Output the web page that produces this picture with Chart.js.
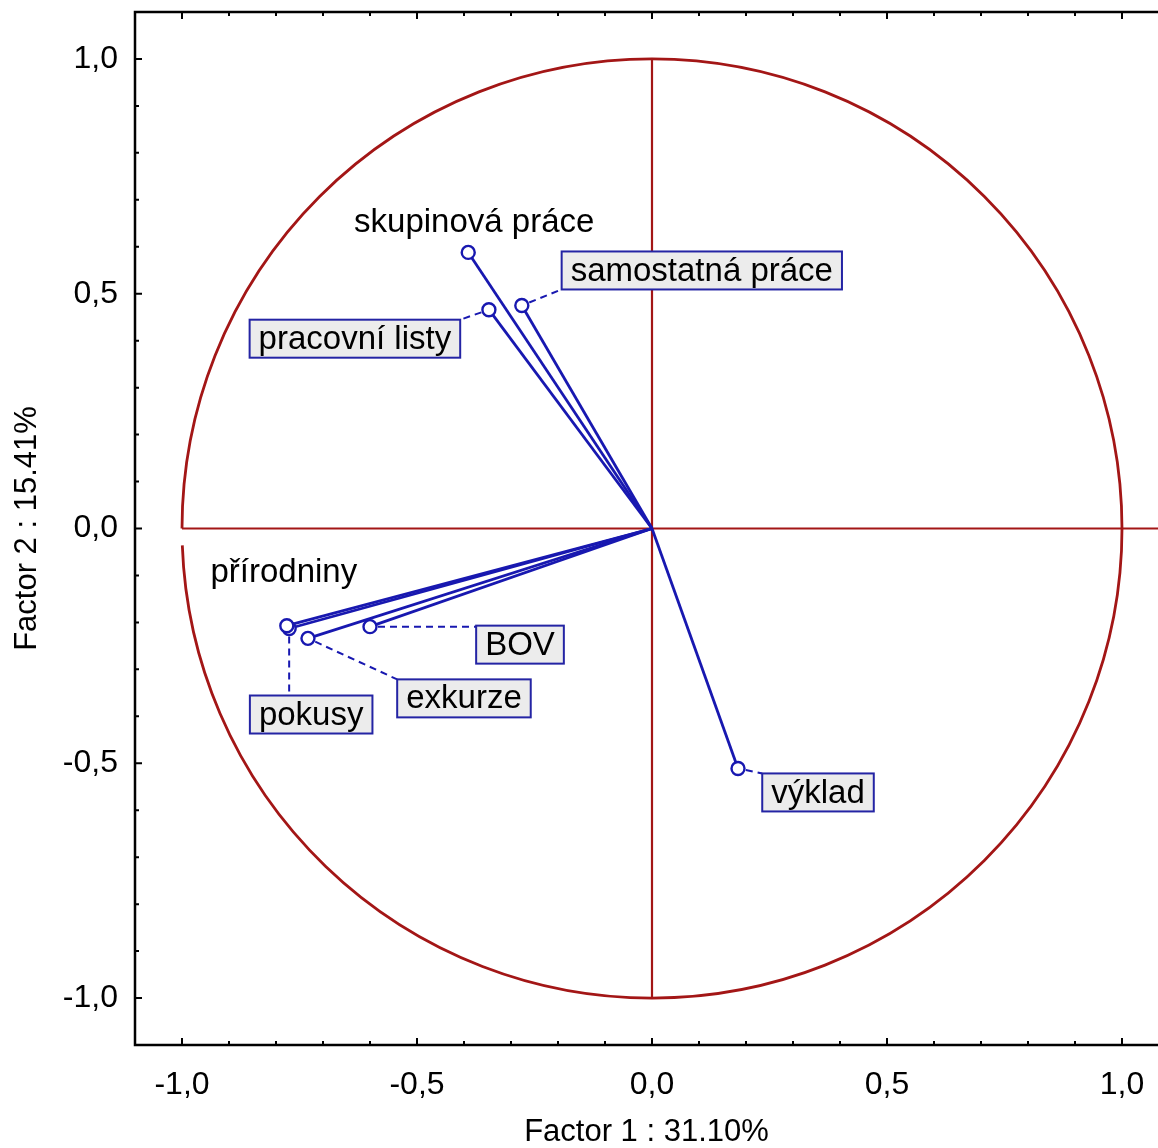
<!DOCTYPE html>
<html>
<head>
<meta charset="utf-8">
<script src="https://cdn.jsdelivr.net/npm/chart.js@4.4.0/dist/chart.umd.min.js"></script>
<style>
  html, body { margin: 0; padding: 0; background: #fff; }
</style>
</head>
<body>
<canvas id="chart" width="1158" height="1148"></canvas>
<script>
// factor loadings of the teaching methods
const variables = [
  "skupinová práce",
  "pracovní listy",
  "samostatná práce",
  "přírodniny",
  "pokusy",
  "exkurze",
  "BOV",
  "výklad"
];
const factor1 = [-0.391, -0.347, -0.277, -0.777, -0.772, -0.732, -0.600, 0.183];
const factor2 = [0.588, 0.466, 0.475, -0.207, -0.213, -0.234, -0.209, -0.511];

// axis ticks
const tickValues = [-1.0, -0.5, 0.0, 0.5, 1.0];
const xTitle = "Factor 1 : 31.10%";
const yTitle = "Factor 2 : 15.41%";

// where each label sits relative to its point (px), and whether it gets a box
const labelOffsets = [[6, -31], [-134, 29], [180, -35], [-3, -54], [22, 86], [156, 60], [150, 18], [80, 24]];
const labelBoxed = [false, true, true, false, true, true, true, true];

const FONT = '"Liberation Sans", Arial, sans-serif';
const RED = '#a31616';
const BLUE = '#1818b0';
const BOX_BLUE = '#2424a4';

const fmt = v => (Math.abs(v) < 1e-9 ? 0 : v).toFixed(1).replace('.', ',');

// unit circle + axes cross, behind the vectors
const circlePlugin = {
  id: 'circle',
  beforeDatasetsDraw(chart) {
    const {ctx, chartArea: a, scales: {x, y}} = chart;
    const cx = x.getPixelForValue(0), cy = y.getPixelForValue(0);
    const rx = x.getPixelForValue(1) - cx;
    const ry = cy - y.getPixelForValue(1);
    ctx.save();
    ctx.strokeStyle = RED;
    ctx.lineWidth = 2.8;
    ctx.beginPath();
    // leaves a small break just under the left end
    ctx.ellipse(cx, cy, rx, ry, 0, Math.PI, 3 * Math.PI - 0.036);
    ctx.stroke();
    ctx.lineWidth = 2.2;
    ctx.beginPath();
    ctx.moveTo(cx, y.getPixelForValue(1));
    ctx.lineTo(cx, y.getPixelForValue(-1));
    ctx.moveTo(x.getPixelForValue(-1), cy);
    ctx.lineTo(a.right, cy);
    ctx.stroke();
    ctx.restore();
  }
};

// variable names, dashed leaders and boxes
const labelPlugin = {
  id: 'labels',
  afterDatasetsDraw(chart) {
    const {ctx, scales: {x, y}} = chart;
    ctx.save();
    ctx.font = '33px ' + FONT;
    ctx.textAlign = 'center';
    ctx.textBaseline = 'middle';
    variables.forEach((name, i) => {
      const px = x.getPixelForValue(factor1[i]);
      const py = y.getPixelForValue(factor2[i]);
      const lx = px + labelOffsets[i][0];
      const ly = py + labelOffsets[i][1];
      if (labelBoxed[i]) {
        const w = ctx.measureText(name).width + 18;
        const h = 38;
        const l = lx - w / 2, t = ly - h / 2;
        // leader goes to the nearest point of the box
        const tx = Math.min(Math.max(px, l), l + w);
        const ty = Math.min(Math.max(py, t), t + h);
        const d = Math.hypot(tx - px, ty - py);
        if (d > 8) {
          ctx.strokeStyle = BLUE;
          ctx.lineWidth = 2;
          ctx.setLineDash([7, 5]);
          ctx.beginPath();
          ctx.moveTo(px + (tx - px) * 8 / d, py + (ty - py) * 8 / d);
          ctx.lineTo(tx, ty);
          ctx.stroke();
          ctx.setLineDash([]);
        }
        ctx.fillStyle = '#ececec';
        ctx.fillRect(l, t, w, h);
        ctx.strokeStyle = BOX_BLUE;
        ctx.lineWidth = 2;
        ctx.strokeRect(l, t, w, h);
      }
      ctx.fillStyle = '#000';
      ctx.fillText(name, lx, ly + 1);
    });
    ctx.restore();
  }
};

// frame on left/top/bottom with inward ticks
const framePlugin = {
  id: 'frame',
  afterDraw(chart) {
    const {ctx, chartArea: a, scales: {x, y}} = chart;
    ctx.save();
    ctx.strokeStyle = '#000';
    ctx.lineWidth = 2.5;
    ctx.beginPath();
    ctx.moveTo(a.right, a.top);
    ctx.lineTo(a.left, a.top);
    ctx.lineTo(a.left, a.bottom);
    ctx.lineTo(a.right, a.bottom);
    ctx.stroke();
    ctx.lineWidth = 2;
    ctx.beginPath();
    for (let k = -10; k <= 10; k++) {
      const v = k / 10;
      const len = k % 5 === 0 ? 7 : 4;
      const xp = x.getPixelForValue(v);
      const yp = y.getPixelForValue(v);
      ctx.moveTo(xp, a.bottom); ctx.lineTo(xp, a.bottom - len);
      ctx.moveTo(xp, a.top); ctx.lineTo(xp, a.top + len);
      ctx.moveTo(a.left, yp); ctx.lineTo(a.left + len, yp);
    }
    ctx.stroke();
    ctx.restore();
  }
};

const datasets = variables.map((name, i) => ({
  label: name,
  data: [{x: 0, y: 0}, {x: factor1[i], y: factor2[i]}],
  showLine: true,
  borderColor: BLUE,
  borderWidth: 2.8,
  pointRadius: c => c.dataIndex === 0 ? 0 : 6.5,
  pointBorderWidth: 2.4,
  pointBorderColor: BLUE,
  pointBackgroundColor: '#fff'
}));

const axisFont = {family: FONT, size: 32};
const titleFont = {family: FONT, size: 31, lineHeight: 1};

// keep the axis boxes at fixed sizes, no extra room for edge labels
const fixBox = (w, h) => s => {
  if (w) s.width = w;
  if (h) s.height = h;
  s.paddingTop = s.paddingBottom = s.paddingLeft = s.paddingRight = 0;
};

new Chart(document.getElementById('chart'), {
  type: 'scatter',
  data: { datasets },
  options: {
    responsive: false,
    animation: false,
    layout: { autoPadding: false, padding: { top: 12, right: 0, bottom: 0, left: 0 } },
    plugins: { legend: { display: false }, tooltip: { enabled: false } },
    scales: {
      x: {
        type: 'linear',
        min: -1.1,
        max: 1.0766,
        grid: { display: false, drawTicks: false },
        border: { display: false },
        ticks: { color: '#000', font: axisFont, padding: 21, maxRotation: 0, autoSkip: false, callback: fmt },
        afterBuildTicks: s => { s.ticks = tickValues.map(v => ({value: v})); },
        afterFit: fixBox(0, 103),
        title: { display: true, text: xTitle, color: '#000', font: titleFont, padding: { top: 0, bottom: 0 } }
      },
      y: {
        type: 'linear',
        min: -1.1,
        max: 1.1,
        grid: { display: false, drawTicks: false },
        border: { display: false },
        ticks: { color: '#000', font: axisFont, padding: 17, autoSkip: false, callback: fmt },
        afterBuildTicks: s => { s.ticks = tickValues.map(v => ({value: v})); },
        afterFit: fixBox(135, 0),
        title: { display: true, text: yTitle, color: '#000', font: titleFont, padding: { top: 12, bottom: 0 } }
      }
    }
  },
  plugins: [circlePlugin, labelPlugin, framePlugin]
});
</script>
</body>
</html>
